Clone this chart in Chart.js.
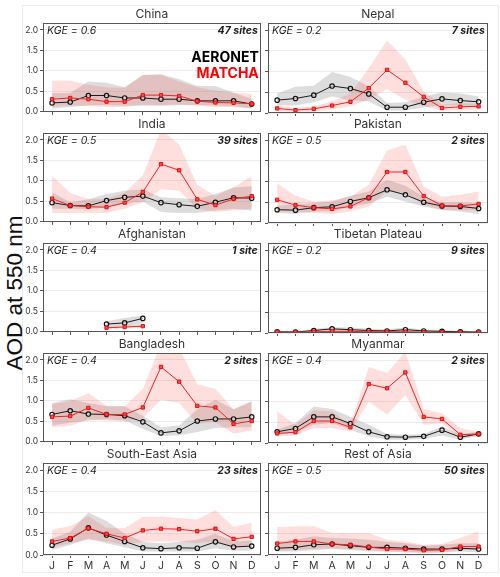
<!DOCTYPE html>
<html>
<head>
<meta charset="utf-8">
<script src="https://cdn.jsdelivr.net/npm/chart.js@4.4.1/dist/chart.umd.min.js"></script>
<style>
  html, body { margin: 0; padding: 0; background: #fff; }
  #fig { position: relative; width: 500px; height: 577px; overflow: hidden; }
  #fig canvas { position: absolute; }
  #frame { position: absolute; left: 22px; top: 5px; width: 475px; height: 566px; border: 1px solid #ececec; }
  #ylabel {
    position: absolute; left: 15px; top: 293px; white-space: nowrap;
    font-family: "Liberation Sans", Arial, sans-serif; font-size: 22.5px; color: #111;
    transform: translate(-50%, -50%) rotate(-90deg);
  }
</style>
</head>
<body>
<div id="fig">
  <div id="frame"></div>
  <div id="ylabel">AOD at 550 nm</div>
</div>
<script>
const months = ['J', 'F', 'M', 'A', 'M', 'J', 'J', 'A', 'S', 'O', 'N', 'D'];
const regions = ['China', 'Nepal', 'India', 'Pakistan', 'Afghanistan', 'Tibetan Plateau',
                 'Bangladesh', 'Myanmar', 'South-East Asia', 'Rest of Asia'];
const kge = ['0.6', '0.2', '0.5', '0.5', '0.4', '0.2', '0.4', '0.4', '0.4', '0.5'];
const sites = ['47 sites', '7 sites', '39 sites', '2 sites', '1 site', '9 sites',
               '2 sites', '2 sites', '23 sites', '50 sites'];
const yTicks = [0, 0.5, 1.0, 1.5, 2.0];
const _ = null;

// AERONET monthly mean and spread
const aeronetMean = [
  [0.22, 0.24, 0.40, 0.40, 0.34, 0.34, 0.31, 0.31, 0.27, 0.27, 0.27, 0.19],
  [0.31, 0.35, 0.43, 0.65, 0.59, 0.46, 0.14, 0.14, 0.26, 0.34, 0.30, 0.27],
  [0.47, 0.40, 0.39, 0.52, 0.60, 0.63, 0.47, 0.42, 0.38, 0.48, 0.59, 0.58],
  [0.32, 0.31, 0.37, 0.39, 0.52, 0.61, 0.80, 0.68, 0.50, 0.41, 0.40, 0.35],
  [_, _, _, 0.19, 0.22, 0.33, _, _, _, _, _, _],
  [0.03, 0.02, 0.06, 0.10, 0.08, 0.06, 0.05, 0.08, 0.05, 0.04, 0.03, 0.02],
  [0.67, 0.76, 0.68, 0.67, 0.64, 0.49, 0.22, 0.27, 0.51, 0.56, 0.56, 0.61],
  [0.27, 0.35, 0.63, 0.63, 0.47, 0.27, 0.15, 0.14, 0.16, 0.31, 0.14, 0.22],
  [0.23, 0.38, 0.64, 0.47, 0.32, 0.17, 0.15, 0.17, 0.16, 0.31, 0.19, 0.21],
  [0.16, 0.18, 0.24, 0.26, 0.22, 0.18, 0.18, 0.16, 0.14, 0.14, 0.16, 0.14]
];
const aeronetLow = [
  [0.08, 0.12, 0.16, 0.16, 0.15, 0.15, 0.15, 0.16, 0.16, 0.15, 0.14, 0.08],
  [0.18, 0.18, 0.26, 0.40, 0.31, 0.28, 0.06, 0.06, 0.14, 0.18, 0.18, 0.14],
  [0.32, 0.32, 0.31, 0.36, 0.44, 0.50, 0.24, 0.22, 0.22, 0.28, 0.32, 0.28],
  [0.24, 0.22, 0.28, 0.28, 0.39, 0.47, 0.63, 0.52, 0.39, 0.32, 0.28, 0.22],
  [_, _, _, 0.12, 0.14, 0.22, _, _, _, _, _, _],
  [0.01, 0.01, 0.02, 0.03, 0.03, 0.02, 0.02, 0.03, 0.02, 0.01, 0.01, 0.01],
  [0.40, 0.47, 0.52, 0.55, 0.52, 0.32, 0.14, 0.16, 0.24, 0.34, 0.36, 0.36],
  [0.20, 0.24, 0.44, 0.48, 0.32, 0.16, 0.08, 0.08, 0.10, 0.18, 0.08, 0.18],
  [0.12, 0.24, 0.39, 0.28, 0.18, 0.08, 0.08, 0.08, 0.08, 0.16, 0.10, 0.10],
  [0.08, 0.08, 0.12, 0.14, 0.12, 0.08, 0.08, 0.06, 0.06, 0.06, 0.08, 0.06]
];
const aeronetHigh = [
  [0.46, 0.46, 0.74, 0.71, 0.60, 0.90, 0.92, 0.80, 0.63, 0.63, 0.47, 0.32],
  [0.47, 0.63, 0.66, 0.99, 0.87, 0.64, 0.24, 0.26, 0.39, 0.50, 0.47, 0.40],
  [0.72, 0.48, 0.55, 0.68, 0.76, 0.80, 0.60, 0.58, 0.55, 0.68, 0.84, 0.87],
  [0.42, 0.44, 0.48, 0.52, 0.66, 0.76, 1.04, 0.90, 0.63, 0.50, 0.50, 0.47],
  [_, _, _, 0.26, 0.34, 0.40, _, _, _, _, _, _],
  [0.05, 0.04, 0.10, 0.14, 0.13, 0.11, 0.09, 0.13, 0.08, 0.07, 0.05, 0.04],
  [0.95, 1.04, 0.95, 0.87, 0.87, 0.64, 0.36, 0.40, 0.80, 1.03, 0.80, 0.98],
  [0.32, 0.48, 0.88, 0.82, 0.63, 0.44, 0.22, 0.20, 0.22, 0.40, 0.20, 0.28],
  [0.39, 0.55, 1.00, 0.80, 0.50, 0.31, 0.28, 0.31, 0.36, 0.50, 0.32, 0.34],
  [0.32, 0.36, 0.44, 0.40, 0.39, 0.36, 0.31, 0.28, 0.22, 0.24, 0.28, 0.28]
];

// MATCHA monthly mean and spread
const matchaMean = [
  [0.31, 0.34, 0.31, 0.25, 0.25, 0.41, 0.41, 0.39, 0.26, 0.23, 0.22, 0.20],
  [0.11, 0.07, 0.10, 0.18, 0.27, 0.60, 1.04, 0.73, 0.39, 0.12, 0.15, 0.16],
  [0.57, 0.40, 0.37, 0.36, 0.47, 0.73, 1.41, 1.26, 0.55, 0.41, 0.56, 0.63],
  [0.56, 0.43, 0.37, 0.34, 0.40, 0.61, 1.23, 1.23, 0.65, 0.42, 0.41, 0.46],
  [_, _, _, 0.10, 0.12, 0.14, _, _, _, _, _, _],
  [0.03, 0.02, 0.03, 0.04, 0.04, 0.03, 0.03, 0.03, 0.02, 0.02, 0.02, 0.02],
  [0.61, 0.63, 0.83, 0.67, 0.67, 0.84, 1.83, 1.47, 0.88, 0.84, 0.44, 0.51],
  [0.23, 0.26, 0.53, 0.53, 0.38, 1.42, 1.32, 1.70, 0.63, 0.58, 0.20, 0.22],
  [0.32, 0.40, 0.63, 0.50, 0.40, 0.58, 0.62, 0.61, 0.56, 0.62, 0.38, 0.43],
  [0.27, 0.32, 0.32, 0.26, 0.24, 0.19, 0.14, 0.14, 0.11, 0.12, 0.20, 0.20]
];
const matchaLow = [
  [0.12, 0.16, 0.14, 0.12, 0.12, 0.18, 0.16, 0.18, 0.16, 0.12, 0.12, 0.08],
  [0.04, 0.02, 0.03, 0.08, 0.16, 0.32, 0.58, 0.32, 0.16, 0.06, 0.06, 0.08],
  [0.22, 0.22, 0.22, 0.22, 0.32, 0.47, 0.80, 0.76, 0.32, 0.24, 0.28, 0.32],
  [0.28, 0.28, 0.24, 0.22, 0.28, 0.40, 0.76, 0.72, 0.44, 0.31, 0.31, 0.31],
  [_, _, _, 0.07, 0.08, 0.10, _, _, _, _, _, _],
  [0.01, 0.01, 0.01, 0.02, 0.02, 0.01, 0.01, 0.01, 0.01, 0.01, 0.01, 0.01],
  [0.36, 0.39, 0.55, 0.52, 0.50, 0.58, 1.03, 0.95, 0.44, 0.48, 0.20, 0.28],
  [0.16, 0.18, 0.36, 0.36, 0.28, 1.00, 0.68, 1.16, 0.44, 0.47, 0.12, 0.16],
  [0.18, 0.28, 0.36, 0.32, 0.24, 0.31, 0.32, 0.32, 0.28, 0.32, 0.18, 0.22],
  [0.10, 0.12, 0.14, 0.16, 0.14, 0.12, 0.08, 0.08, 0.04, 0.06, 0.12, 0.12]
];
const matchaHigh = [
  [0.76, 0.76, 0.66, 0.60, 0.59, 0.90, 0.90, 0.74, 0.60, 0.52, 0.47, 0.44],
  [0.18, 0.12, 0.16, 0.28, 0.47, 1.08, 1.75, 1.29, 0.52, 0.20, 0.24, 0.22],
  [1.12, 0.71, 0.55, 0.56, 0.71, 1.14, 2.25, 1.89, 0.90, 0.63, 0.84, 1.12],
  [0.96, 0.66, 0.52, 0.55, 0.63, 0.92, 1.75, 1.89, 0.88, 0.63, 0.68, 0.76],
  [_, _, _, 0.14, 0.17, 0.20, _, _, _, _, _, _],
  [0.05, 0.04, 0.05, 0.06, 0.06, 0.05, 0.05, 0.05, 0.04, 0.04, 0.04, 0.04],
  [0.92, 1.00, 1.19, 0.88, 0.87, 1.29, 2.40, 2.30, 1.41, 1.30, 0.80, 1.00],
  [0.76, 0.44, 0.79, 0.76, 0.44, 1.83, 1.69, 2.20, 0.82, 0.72, 0.36, 0.26],
  [0.60, 0.68, 0.92, 0.64, 0.63, 0.90, 0.90, 0.87, 0.84, 1.06, 0.66, 0.76],
  [0.66, 0.67, 0.68, 0.52, 0.52, 0.52, 0.36, 0.32, 0.24, 0.26, 0.40, 0.56]
];

const FONT = 'Inter, "Noto Sans", sans-serif';

// frame, panel title, KGE / site count, and the legend in the first panel
const panelDecor = {
  id: 'panelDecor',
  afterDraw(chart, args, opts) {
    const { ctx, chartArea: a } = chart;
    ctx.save();
    ctx.strokeStyle = '#555';
    ctx.lineWidth = 1;
    ctx.strokeRect(Math.round(a.left) + 0.5, Math.round(a.top) + 0.5,
                   Math.round(a.width) - 1, Math.round(a.height) - 1);

    ctx.fillStyle = '#333';
    ctx.textBaseline = 'middle';
    ctx.textAlign = 'center';
    ctx.font = '12px ' + FONT;
    ctx.fillText(opts.title, (a.left + a.right) / 2, a.top - 9);

    ctx.fillStyle = '#222';
    ctx.textAlign = 'left';
    ctx.font = 'italic 10.5px ' + FONT;
    ctx.fillText('KGE = ' + opts.kge, a.left + 4, a.top + 8);
    ctx.textAlign = 'right';
    ctx.font = 'italic bold 10.5px ' + FONT;
    ctx.fillText(opts.sites, a.right - 3, a.top + 8);

    if (opts.legend) {
      ctx.font = 'bold 14px ' + FONT;
      ctx.fillStyle = '#000';
      ctx.fillText('AERONET', a.right - 2, a.top + 35);
      ctx.fillStyle = '#ff0000';
      ctx.fillText('MATCHA', a.right - 2, a.top + 51);
    }
    ctx.restore();
  }
};

function makePanel(i) {
  const col = i % 2, row = Math.floor(i / 2);
  const last = row === 4;
  const canvas = document.createElement('canvas');
  const left = col === 0 ? 18 : 262;
  const width = col === 0 ? 248 : 231;
  const height = last ? 128 : 116;
  canvas.width = width;
  canvas.height = height;
  canvas.style.left = left + 'px';
  canvas.style.top = (3 + 110 * row) + 'px';
  canvas.style.width = width + 'px';
  canvas.style.height = height + 'px';
  document.getElementById('fig').appendChild(canvas);

  const band = (data, color, order) => ({
    data, borderWidth: 0, pointRadius: 0, backgroundColor: color, fill: false, order
  });

  new Chart(canvas, {
    type: 'line',
    data: {
      labels: months,
      datasets: [
        { label: 'AERONET', data: aeronetMean[i], borderColor: '#1a1a1a', borderWidth: 1,
          pointStyle: 'circle', pointRadius: 2.2, pointBorderWidth: 1.2,
          pointBorderColor: '#111', pointBackgroundColor: 'rgba(255,255,255,0.6)', order: 1 },
        { label: 'MATCHA', data: matchaMean[i], borderColor: '#ee2424', borderWidth: 1,
          pointStyle: 'rect', pointRadius: 2.3, pointBorderWidth: 1,
          pointBorderColor: '#e01010', pointBackgroundColor: '#ff4848', order: 0 },
        Object.assign(band(aeronetHigh[i], 'rgba(120,120,120,0.25)', 3), { fill: '+1' }),
        band(aeronetLow[i], 'rgba(120,120,120,0.25)', 3),
        Object.assign(band(matchaHigh[i], 'rgba(255,60,60,0.17)', 2), { fill: '+1' }),
        band(matchaLow[i], 'rgba(255,60,60,0.17)', 2)
      ]
    },
    options: {
      responsive: false,
      animation: false,
      spanGaps: false,
      layout: { padding: { top: 20, right: 2, left: 0, bottom: 0 } },
      plugins: {
        legend: { display: false },
        tooltip: { enabled: false },
        title: { display: false },
        panelDecor: { title: regions[i], kge: kge[i], sites: sites[i], legend: i === 0 }
      },
      scales: {
        x: {
          offset: true,
          grid: { offset: false, drawOnChartArea: false, drawTicks: true, tickLength: 3,
                  tickColor: '#555' },
          border: { display: false },
          ticks: { display: last, color: '#333', padding: 2, maxRotation: 0, autoSkip: false,
                   font: { family: FONT, size: 10.5 } },
          afterFit(s) { s.height = last ? 16 : 6; }
        },
        y: {
          min: 0, max: 2.17,
          afterBuildTicks(s) { s.ticks = yTicks.map(v => ({ value: v })); },
          grid: { color: '#ececec', tickColor: '#555', tickLength: 3, lineWidth: 1 },
          border: { display: false },
          ticks: { display: col === 0, color: '#333', padding: 2,
                   font: { family: FONT, size: 8.5 },
                   callback: v => v.toFixed(1) },
          afterFit(s) { s.width = col === 0 ? 25 : 6; }
        }
      }
    },
    plugins: [panelDecor]
  });
}

regions.forEach((r, i) => makePanel(i));
</script>
</body>
</html>
